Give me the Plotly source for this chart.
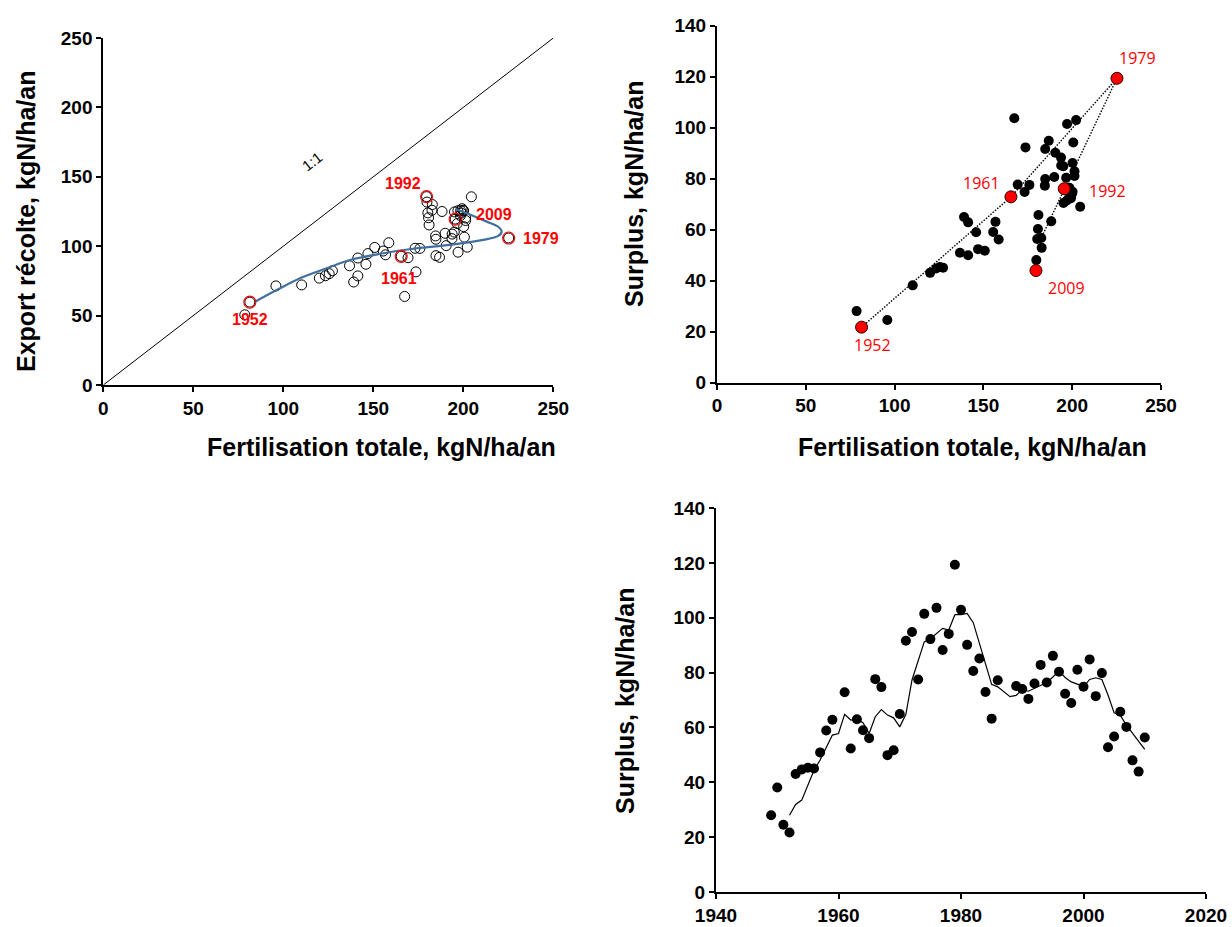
import plotly.graph_objects as go

# ---------------- data ----------------
years = [1949, 1950, 1951, 1952, 1953, 1954, 1955, 1956, 1957, 1958, 1959,
         1961, 1962, 1963, 1964, 1965, 1966, 1967, 1968, 1969, 1970,
         1971, 1972, 1973, 1974, 1975, 1976, 1977, 1978, 1979, 1980,
         1981, 1982, 1983, 1984, 1985, 1986, 1989, 1990,
         1991, 1992, 1993, 1994, 1995, 1996, 1997, 1998, 1999, 2000,
         2001, 2002, 2003, 2004, 2005, 2006, 2007, 2008, 2009, 2010]

fertilisation = [78.6, 110.2, 95.9, 81.4, 120.0, 123.4, 125.5, 127.3, 136.8, 145.9, 141.4,
                 165.5, 147.0, 156.8, 155.5, 158.6, 169.3, 173.2, 141.4, 150.8, 139.1,
                 184.8, 186.8, 175.9, 197.1, 173.7, 167.4, 193.7, 200.6, 225.2, 202.2,
                 190.5, 189.9, 193.8, 198.5, 188.2, 184.6, 198.9, 199.9,
                 195.1, 195.5, 201.3, 198.4, 200.2, 196.6, 199.3, 204.5, 201.3, 200.2,
                 195.0, 197.0, 184.8, 182.8, 182.6, 181.0, 180.7, 179.8, 179.6, 180.3]

surplus = [28.0, 38.1, 24.5, 21.7, 43.0, 44.7, 45.3, 45.0, 50.9, 58.9, 62.8,
           72.8, 52.3, 63.0, 59.0, 56.1, 77.6, 74.7, 49.9, 51.7, 64.9,
           91.6, 94.8, 77.5, 101.4, 92.2, 103.6, 88.2, 94.1, 119.3, 102.9,
           90.1, 80.6, 85.1, 72.9, 63.2, 77.2, 75.1, 74.0,
           70.4, 76.0, 82.8, 76.4, 86.1, 80.3, 72.3, 68.9, 81.0, 74.8,
           84.8, 71.4, 79.8, 52.8, 56.7, 65.7, 60.2, 48.0, 43.9, 56.3]

export_recolte = [50.6, 72.1, 71.4, 59.7, 77.0, 78.7, 80.2, 82.3, 85.9, 87.0, 78.6,
                  92.7, 94.7, 93.8, 96.5, 102.5, 91.7, 98.5, 91.5, 99.1, 74.2,
                  93.2, 92.0, 98.4, 95.7, 81.5, 63.8, 105.5, 106.5, 105.9, 99.3,
                  100.4, 109.3, 108.7, 125.6, 125.0, 107.4, 123.8, 125.9,
                  124.7, 119.5, 118.5, 122.0, 114.1, 116.3, 127.0, 135.6, 120.3, 125.4,
                  110.2, 125.6, 105.0, 130.0, 125.9, 115.3, 120.5, 131.8, 135.7, 124.0]

# moving-average line of the bottom panel
ma_years = [1952, 1953, 1954, 1955, 1956, 1957, 1958, 1959, 1960, 1961,
            1962, 1963, 1964, 1965, 1966, 1967, 1968, 1969, 1970, 1971,
            1972, 1973, 1974, 1975, 1976, 1977, 1978, 1979, 1980, 1981,
            1982, 1983, 1984, 1985, 1986, 1988, 1989, 1990, 1991, 1992,
            1993, 1994, 1995, 1996, 1997, 1998, 1999, 2000, 2001, 2002,
            2003, 2004, 2005, 2006, 2007, 2008, 2009, 2010]
ma_surplus = [28.0, 31.9, 33.5, 39.0, 44.4, 48.1, 52.9, 57.2, 57.8, 64.8,
              62.7, 62.9, 61.7, 57.8, 63.9, 66.5, 64.5, 63.5, 60.2, 64.8,
              77.3, 83.9, 91.2, 92.3, 94.3, 96.1, 95.5, 101.1, 101.1, 101.6,
              98.2, 90.6, 83.1, 75.7, 74.8, 71.2, 71.7, 73.8, 73.2, 74.2,
              75.2, 76.4, 78.4, 80.6, 78.2, 76.6, 75.8, 74.8, 77.5, 78.1,
              77.5, 71.8, 65.3, 64.5, 60.8, 57.8, 54.8, 52.0]

# blue trajectory curve of the left panel
curve_fert = [84.3, 96.3, 109.3, 124.1, 137.1, 155.7, 174.1, 192.6, 211.1, 219.4,
              221.3, 219.4, 213.0, 205.6, 198.2, 195.9]
curve_export = [60.0, 68.4, 76.9, 84.1, 90.1, 94.9, 98.5, 100.9, 104.5, 107.4,
                110.5, 114.0, 117.7, 121.8, 125.6, 126.6]

one_to_one = [0, 250]
highlight_years = [1952, 1961, 1979, 1992, 2009]
# labels as printed on the left panel (year of point -> text)
tl_label_text = {1952: "1952", 1961: "1961", 1979: "1979", 2009: "1992", 1992: "2009"}
tr_label_text = {1952: "1952", 1961: "1961", 1979: "1979", 1992: "1992", 2009: "2009"}
path_years = [1952, 1961, 1979, 1992, 2005]

x_ticks_fert = [0, 50, 100, 150, 200, 250]
y_ticks_export = [0, 50, 100, 150, 200, 250]
y_ticks_surplus = [0, 20, 40, 60, 80, 100, 120, 140]
x_ticks_years = [1940, 1960, 1980, 2000, 2020]

# ---------------- figure ----------------
W, H = 1232, 927
idx = {y: i for i, y in enumerate(years)}
hl = [idx[y] for y in highlight_years]
RED = "#FF0000"
FONT = "Liberation Sans, Arial, sans-serif"

fig = go.Figure()

# ---- top-left panel ----
fig.add_trace(go.Scatter(x=one_to_one, y=one_to_one, mode="lines",
                         line=dict(color="black", width=1), xaxis="x", yaxis="y",
                         showlegend=False, hoverinfo="skip"))
fig.add_trace(go.Scatter(x=fertilisation, y=export_recolte, mode="markers",
                         marker=dict(symbol="circle-open", size=10, color="black",
                                     line=dict(color="black", width=1)),
                         xaxis="x", yaxis="y", showlegend=False))
fig.add_trace(go.Scatter(x=curve_fert, y=curve_export, mode="lines",
                         line=dict(color="#41709E", width=2.2, shape="spline", smoothing=1.0),
                         xaxis="x", yaxis="y", showlegend=False))
fig.add_trace(go.Scatter(x=[fertilisation[i] for i in hl], y=[export_recolte[i] for i in hl],
                         mode="markers",
                         marker=dict(symbol="circle-open", size=12, color=RED,
                                     line=dict(color=RED, width=1.1)),
                         xaxis="x", yaxis="y", showlegend=False))

# ---- top-right panel ----
pi = [idx[y] for y in path_years]
fig.add_trace(go.Scatter(x=[fertilisation[i] for i in pi], y=[surplus[i] for i in pi],
                         mode="lines", line=dict(color="black", width=1.4, dash="1.5px,1.5px"),
                         xaxis="x2", yaxis="y2", showlegend=False))
fig.add_trace(go.Scatter(x=fertilisation, y=surplus, mode="markers",
                         marker=dict(symbol="circle", size=10, color="black"),
                         xaxis="x2", yaxis="y2", showlegend=False))
fig.add_trace(go.Scatter(x=[fertilisation[i] for i in hl], y=[surplus[i] for i in hl],
                         mode="markers",
                         marker=dict(symbol="circle", size=12, color=RED,
                                     line=dict(color="#300000", width=1)),
                         xaxis="x2", yaxis="y2", showlegend=False))

# ---- bottom panel ----
fig.add_trace(go.Scatter(x=ma_years, y=ma_surplus, mode="lines",
                         line=dict(color="black", width=1.2),
                         xaxis="x3", yaxis="y3", showlegend=False))
fig.add_trace(go.Scatter(x=years, y=surplus, mode="markers",
                         marker=dict(symbol="circle", size=10, color="black"),
                         xaxis="x3", yaxis="y3", showlegend=False))


def px_x(p):
    return p / W


def px_y(p):
    return 1 - p / H


tickfont = dict(family=FONT, size=19, color="black", weight="bold")
axis_common = dict(showgrid=False, zeroline=False, showline=True, linecolor="black",
                   linewidth=2, ticks="outside", ticklen=5, tickwidth=2, tickcolor="black",
                   tickfont=tickfont, tickmode="array", fixedrange=True, automargin=False)

fig.update_layout(
    width=W, height=H, autosize=False,
    margin=dict(l=0, r=0, t=0, b=0, pad=0, autoexpand=False),
    paper_bgcolor="white", plot_bgcolor="white", showlegend=False,
    xaxis=dict(domain=[px_x(103.3), px_x(553.3)], range=[0, 250], tickvals=x_ticks_fert,
               anchor="y", **axis_common),
    yaxis=dict(domain=[px_y(385), px_y(38)], range=[0, 250], tickvals=y_ticks_export,
               anchor="x", **axis_common),
    xaxis2=dict(domain=[px_x(717), px_x(1161)], range=[0, 250], tickvals=x_ticks_fert,
                anchor="y2", **axis_common),
    yaxis2=dict(domain=[px_y(382.5), px_y(25.5)], range=[0, 140], tickvals=y_ticks_surplus,
                anchor="x2", **axis_common),
    xaxis3=dict(domain=[px_x(716), px_x(1206)], range=[1940, 2020], tickvals=x_ticks_years,
                anchor="y3", **axis_common),
    yaxis3=dict(domain=[px_y(892), px_y(508)], range=[0, 140], tickvals=y_ticks_surplus,
                anchor="x3", **axis_common),
)

ann = []
title_font = dict(family=FONT, size=25, color="black", weight="bold")


def title(text, x, y, angle=0):
    return dict(text=text, xref="paper", yref="paper", x=px_x(x), y=px_y(y),
                xanchor="center", yanchor="middle", showarrow=False,
                font=title_font, textangle=angle)


ann.append(title("Fertilisation totale, kgN/ha/an", 381, 447))
ann.append(title("Export récolte, kgN/ha/an", 26, 222, -90))
ann.append(title("Fertilisation totale, kgN/ha/an", 972, 447))
ann.append(title("Surplus, kgN/ha/an", 634, 194, -90))
ann.append(title("Surplus, kgN/ha/an", 625, 701, -90))

# 1:1 label
ann.append(dict(text="1:1", xref="x", yref="y", x=116, y=160.7, showarrow=False,
                xanchor="center", yanchor="middle",
                textangle=-37.6, font=dict(family=FONT, size=15, color="black")))

# left-panel year labels (bold red)
tl_shift = {1952: (0, -17), 1961: (-2, -22), 2009: (-24, 13), 1992: (39, 5), 1979: (32, 0)}
for y, txt in tl_label_text.items():
    i = idx[y]
    dx, dy = tl_shift[y]
    ann.append(dict(text=txt, xref="x", yref="y", x=fertilisation[i], y=export_recolte[i],
                    xshift=dx, yshift=dy, showarrow=False, xanchor="center", yanchor="middle",
                    font=dict(family=FONT, size=16, color=RED, weight="bold")))

# right-panel year labels (regular red)
tr_shift = {1952: (11, -18), 1961: (-29, 14), 1992: (43, -2), 2009: (31, -17), 1979: (21, 20)}
for y, txt in tr_label_text.items():
    i = idx[y]
    dx, dy = tr_shift[y]
    ann.append(dict(text=txt, xref="x2", yref="y2", x=fertilisation[i], y=surplus[i],
                    xshift=dx, yshift=dy, showarrow=False, xanchor="center", yanchor="middle",
                    font=dict(family="Open Sans, sans-serif", size=16, color=RED)))

fig.update_layout(annotations=ann)
fig.write_html("out.html", config={"displayModeBar": False})
